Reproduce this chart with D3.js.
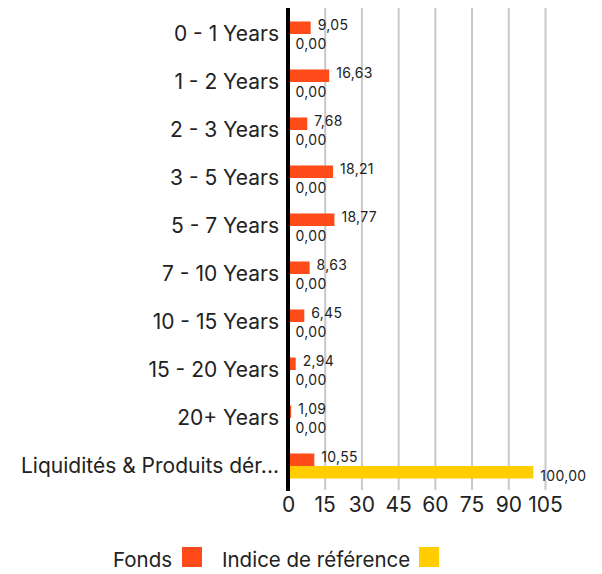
<!DOCTYPE html>
<meta charset="utf-8">
<script src="https://d3js.org/d3.v7.min.js"></script>
<style>
body { margin: 0; background: #fff; }
text { font-family: Inter, "Noto Sans", sans-serif; fill: #222; }
</style>
<body>
<div id="chart"></div>
<script>

// data
const categories = ["0 - 1 Years", "1 - 2 Years", "2 - 3 Years", "3 - 5 Years", "5 - 7 Years",
  "7 - 10 Years", "10 - 15 Years", "15 - 20 Years", "20+ Years", "Liquidités & Produits dér..."];
const fonds = [9.05, 16.63, 7.68, 18.21, 18.77, 8.63, 6.45, 2.94, 1.09, 10.55];
const indice = [0, 0, 0, 0, 0, 0, 0, 0, 0, 100];
const xTicks = [0, 15, 30, 45, 60, 75, 90, 105];
const seriesNames = ["Fonds", "Indice de référence"];
const colors = ["#ff4a1a", "#ffcd00"];

const W = 602, H = 574;
const svg = d3.select("#chart").append("svg")
  .attr("width", W).attr("height", H);

const x = d3.scaleLinear().domain([0, 105]).range([288.5, 545.5]);
const y = d3.scaleBand().domain(categories).range([10, 490]);
const fmt = v => d3.format(".2f")(v).replace(".", ",");

// gridlines
svg.append("g").selectAll("line")
  .data(xTicks.slice(1))
  .join("line")
    .attr("x1", d => x(d)).attr("x2", d => x(d))
    .attr("y1", 8).attr("y2", 490)
    .attr("stroke", "#c8c8c8").attr("stroke-width", 2);

// category labels
svg.append("g").selectAll("text")
  .data(categories)
  .join("text")
    .attr("x", 279)
    .attr("y", d => y(d) + y.bandwidth() / 2)
    .attr("dy", "0.35em")
    .attr("text-anchor", "end")
    .attr("font-size", 21)
    .text(d => d);

const bh = 12.5;
const rows = categories.map((c, i) => ({c, f: fonds[i], b: indice[i]}));

// bars
const g = svg.append("g");
g.selectAll("rect.f").data(rows).join("rect")
  .attr("class", "f")
  .attr("x", x(0))
  .attr("y", d => y(d.c) + y.bandwidth() / 2 - bh)
  .attr("width", d => x(d.f) - x(0))
  .attr("height", bh)
  .attr("fill", colors[0]);
g.selectAll("rect.b").data(rows).join("rect")
  .attr("class", "b")
  .attr("x", x(0))
  .attr("y", d => y(d.c) + y.bandwidth() / 2)
  .attr("width", d => x(d.b) - x(0))
  .attr("height", bh)
  .attr("fill", colors[1]);

// value labels
g.selectAll("text.f").data(rows).join("text")
  .attr("class", "f")
  .attr("x", d => x(d.f) + 7)
  .attr("y", d => y(d.c) + y.bandwidth() / 2 - 4)
  .attr("font-size", 14)
  .attr("letter-spacing", 0.3)
  .text(d => fmt(d.f));
g.selectAll("text.b").data(rows).join("text")
  .attr("class", "b")
  .attr("x", d => x(d.b) + 7)
  .attr("y", d => y(d.c) + y.bandwidth() / 2 + 15)
  .attr("font-size", 14)
  .attr("letter-spacing", 0.3)
  .text(d => fmt(d.b));

// axis line
svg.append("line")
  .attr("x1", 288).attr("x2", 288)
  .attr("y1", 8).attr("y2", 491)
  .attr("stroke", "#000").attr("stroke-width", 4);

// x tick labels
svg.append("g").selectAll("text")
  .data(xTicks)
  .join("text")
    .attr("x", d => x(d))
    .attr("y", 512)
    .attr("text-anchor", "middle")
    .attr("font-size", 21)
    .text(d => d);

// legend
const legend = svg.append("g");
const lx = [113, 222], sx = [182, 419];
seriesNames.forEach((n, i) => {
  legend.append("text")
    .attr("x", lx[i]).attr("y", 567)
    .attr("font-size", 20.5)
    .text(n);
  legend.append("rect")
    .attr("x", sx[i]).attr("y", 547)
    .attr("width", 20).attr("height", 20)
    .attr("fill", colors[i]);
});

</script>
</body>
